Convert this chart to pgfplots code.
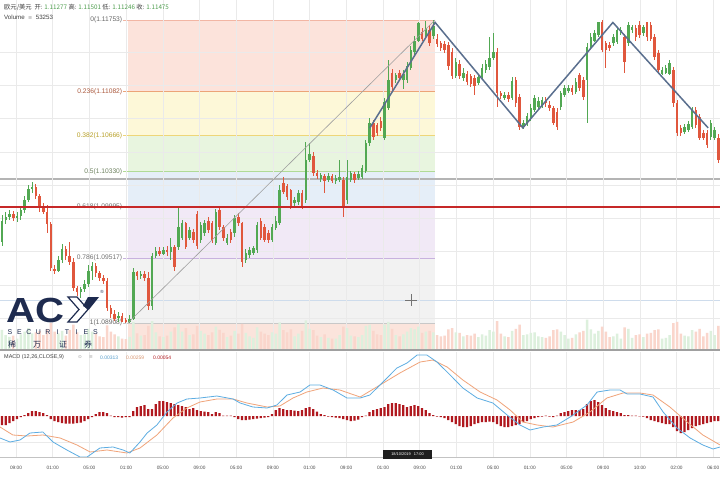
\documentclass[border=0pt]{standalone}
\usepackage{pgfplots}
\pgfplotsset{compat=1.18}
\usepackage{pgfplotstable}
\usepackage{fontspec}
\setmainfont{Liberation Sans}
\newfontfamily\cjk{Noto Sans CJK SC}
\newfontfamily\dejavu{DejaVu Sans}
\definecolor{up}{HTML}{52A853}
\definecolor{dn}{HTML}{E0573D}
\definecolor{vup}{HTML}{DDF0DD}
\definecolor{vdn}{HTML}{FAD6CC}
\definecolor{gridc}{HTML}{EAEAEA}
\definecolor{histc}{HTML}{B0181E}
\definecolor{macdc}{HTML}{5DADE2}
\definecolor{sigc}{HTML}{F0A47A}
\definecolor{zig}{HTML}{5A6F8E}
\definecolor{redl}{HTML}{C62828}
\definecolor{navy}{HTML}{1E2B4F}
\definecolor{numc}{HTML}{4E9E4E}
\definecolor{fA}{HTML}{FCE3DB}
\definecolor{fB}{HTML}{FDF8D8}
\definecolor{fC}{HTML}{E8F5DF}
\definecolor{fD}{HTML}{E5EEF8}
\definecolor{fE}{HTML}{F1E9F6}
\definecolor{fF}{HTML}{F2F2F2}
\definecolor{fG}{HTML}{FBE4DC}
\definecolor{l0}{HTML}{F2B6A4}
\definecolor{l1}{HTML}{ECA478}
\definecolor{l2}{HTML}{EED678}
\definecolor{l3}{HTML}{B0DA96}
\definecolor{l4}{HTML}{A8C4E8}
\definecolor{l5}{HTML}{C8B2DE}
\definecolor{l6}{HTML}{C8C8C8}
\definecolor{t1}{HTML}{AA583C}
\definecolor{t2}{HTML}{B8A028}
\definecolor{t3}{HTML}{6E8260}
\definecolor{hl}{HTML}{B4B4B4}
\definecolor{bl}{HTML}{CEDCEC}
\definecolor{sep}{HTML}{A0A0A0}
\definecolor{sep2}{HTML}{C3C3C3}
\def\xt{3.73,13.52,23.31,33.09,42.88,52.67,62.45,72.24,82.03,91.81,101.6,111.39,121.17,130.96,140.75,150.53,160.32,170.11,179.89,189.68}

\pgfplotstableread{
i o h l c v
0 1.0967 1.0992 1.0963 1.0987 55
1 1.0987 1.0995 1.0984 1.0990 40
2 1.0990 1.0997 1.0988 1.0993 35
3 1.0993 1.0996 1.0987 1.0989 38
4 1.0989 1.0995 1.0986 1.0991 30
5 1.0991 1.1001 1.0988 1.0997 42
6 1.0997 1.1010 1.0994 1.1006 50
7 1.1006 1.1020 1.1004 1.1017 60
8 1.1017 1.1023 1.1013 1.1019 45
9 1.1019 1.1021 1.1007 1.1010 48
10 1.1010 1.1012 1.0995 1.0999 52
11 1.0999 1.1003 1.0993 1.0995 40
12 1.0995 1.1002 1.0975 1.0984 58
13 1.0984 1.0986 1.0940 1.0942 75
14 1.0942 1.0945 1.0937 1.0940 50
15 1.0940 1.0954 1.0939 1.0950 45
16 1.0950 1.0965 1.0947 1.0960 52
17 1.0960 1.0963 1.0950 1.0954 38
18 1.0954 1.0967 1.0945 1.0948 55
19 1.0948 1.0952 1.0921 1.0924 70
20 1.0924 1.0926 1.0916 1.0920 48
21 1.0920 1.0925 1.0914 1.0923 40
22 1.0923 1.0931 1.0920 1.0927 42
23 1.0927 1.0945 1.0925 1.0940 58
24 1.0940 1.0948 1.0931 1.0944 50
25 1.0944 1.0947 1.0934 1.0938 44
26 1.0938 1.0940 1.0930 1.0933 36
27 1.0933 1.0936 1.0927 1.0930 34
28 1.0930 1.0933 1.0902 1.0905 68
29 1.0905 1.0908 1.0895 1.0899 50
30 1.0899 1.0903 1.0893 1.0895 42
31 1.0895 1.0901 1.0892 1.0897 36
32 1.0897 1.0900 1.0892 1.0892 30
33 1.0894 1.0895 1.0891 1.0892 28
34 1.0892 1.0898 1.08908 1.0895 35
35 1.0895 1.0942 1.0894 1.0939 78
36 1.0939 1.0940 1.0931 1.0935 45
37 1.0935 1.0940 1.0932 1.0937 38
38 1.0937 1.0940 1.0930 1.0933 40
39 1.0933 1.0939 1.0903 1.0907 66
40 1.0907 1.0957 1.0903 1.0954 80
41 1.0954 1.0962 1.0952 1.0958 48
42 1.0958 1.0962 1.0954 1.0956 36
43 1.0956 1.0962 1.0955 1.0959 34
44 1.0959 1.0963 1.0954 1.0957 38
45 1.0957 1.0971 1.0950 1.0962 50
46 1.0962 1.0964 1.0940 1.0943 62
47 1.0962 1.0999 1.0959 1.0981 72
48 1.0971 1.0988 1.0969 1.0985 50
49 1.0985 1.0986 1.0960 1.0962 60
50 1.0971 1.0981 1.0969 1.0978 40
51 1.0976 1.0979 1.0966 1.0969 42
52 1.0993 1.0996 1.0960 1.0963 66
53 1.0969 1.0986 1.0966 1.0983 52
54 1.0975 1.0988 1.0973 1.0985 44
55 1.0987 1.0990 1.0975 1.0978 40
56 1.0985 1.0987 1.0966 1.0969 48
57 1.0966 1.0998 1.0964 1.0995 64
58 1.0997 1.1000 1.0978 1.0981 55
59 1.0981 1.0983 1.0968 1.0971 46
60 1.0966 1.0974 1.0964 1.0971 34
61 1.0976 1.0979 1.0966 1.0969 38
62 1.0975 1.0992 1.0972 1.0989 52
63 1.0990 1.0994 1.0982 1.0985 44
64 1.0985 1.0986 1.0943 1.0948 72
65 1.0950 1.0960 1.0947 1.0957 46
66 1.0955 1.0962 1.0952 1.0959 36
67 1.0957 1.0963 1.0955 1.0961 32
68 1.0959 1.0986 1.0957 1.0983 62
69 1.0987 1.0989 1.0969 1.0971 50
70 1.0981 1.0984 1.0967 1.0969 44
71 1.0975 1.0978 1.0966 1.0969 40
72 1.0969 1.0984 1.0967 1.0981 48
73 1.0980 1.0991 1.0978 1.0987 44
74 1.0985 1.1020 1.0983 1.1016 76
75 1.1022 1.1028 1.1012 1.1014 54
76 1.1019 1.1021 1.1006 1.1009 48
77 1.1016 1.1017 1.0998 1.1000 56
78 1.1003 1.1009 1.1001 1.1006 36
79 1.1004 1.1016 1.1002 1.1013 44
80 1.1013 1.1016 1.0998 1.1000 52
81 1.1006 1.1061 1.1003 1.1044 82
82 1.1044 1.1060 1.1042 1.1050 58
83 1.1048 1.1051 1.1029 1.1032 54
84 1.1032 1.1034 1.1026 1.1029 38
85 1.1026 1.1032 1.1023 1.1030 34
86 1.1029 1.1031 1.1013 1.1024 42
87 1.1025 1.1032 1.1023 1.1029 32
88 1.1029 1.1031 1.1022 1.1024 30
89 1.1024 1.1030 1.1021 1.1027 30
90 1.1025 1.1044 1.1023 1.1028 40
91 1.1025 1.1028 1.0990 1.1000 64
92 1.1006 1.1044 1.1003 1.1028 60
93 1.1025 1.1034 1.1023 1.1032 38
94 1.1031 1.1033 1.1022 1.1025 36
95 1.1027 1.1034 1.1025 1.1031 34
96 1.1028 1.1039 1.1026 1.1036 40
97 1.1034 1.1063 1.1032 1.1060 66
98 1.1060 1.1083 1.1057 1.1079 70
99 1.1079 1.1081 1.1063 1.1065 52
100 1.1077 1.1079 1.1066 1.1069 42
101 1.1081 1.1084 1.1071 1.1074 40
102 1.1065 1.1102 1.1063 1.1098 70
103 1.1093 1.1138 1.1091 1.1119 78
104 1.1126 1.1129 1.1109 1.1112 58
105 1.1119 1.1126 1.1116 1.1124 40
106 1.1126 1.1128 1.1118 1.1121 36
107 1.1119 1.1128 1.1111 1.1125 42
108 1.1119 1.1136 1.1116 1.1132 50
109 1.1130 1.1151 1.1128 1.1147 60
110 1.1145 1.1160 1.1143 1.1156 56
111 1.1156 1.1174 1.1155 1.1173 64
112 1.1164 1.1168 1.1156 1.1158 46
113 1.1160 1.1174 1.1157 1.1168 50
114 1.1166 1.1171 1.1151 1.1154 52
115 1.1160 1.11753 1.1158 1.1170 48
116 1.1158 1.1162 1.1150 1.1153 40
117 1.1154 1.1156 1.1146 1.1149 36
118 1.1153 1.1156 1.1144 1.1147 38
119 1.1152 1.1155 1.1128 1.1132 56
120 1.1145 1.1149 1.1120 1.1123 60
121 1.1123 1.1140 1.1121 1.1136 48
122 1.1134 1.1138 1.1120 1.1123 46
123 1.1121 1.1130 1.1118 1.1126 36
124 1.1125 1.1127 1.1114 1.1117 40
125 1.1123 1.1125 1.1112 1.1115 38
126 1.1121 1.1124 1.1105 1.1113 44
127 1.1116 1.1125 1.1114 1.1122 34
128 1.1122 1.1134 1.1120 1.1130 42
129 1.1128 1.1138 1.1126 1.1134 38
130 1.1131 1.1159 1.1128 1.1140 54
131 1.1140 1.1163 1.1138 1.1145 50
132 1.1145 1.1149 1.1094 1.1107 80
133 1.1107 1.1109 1.1101 1.1104 44
134 1.1102 1.1108 1.1100 1.1105 36
135 1.1105 1.1108 1.1098 1.1101 34
136 1.1102 1.1122 1.1100 1.1118 52
137 1.1119 1.1122 1.1094 1.1097 58
138 1.1103 1.1106 1.1072 1.1075 70
139 1.1075 1.1081 1.1073 1.1079 40
140 1.1079 1.1088 1.1076 1.1085 42
141 1.1083 1.1096 1.1080 1.1093 46
142 1.1091 1.1105 1.1089 1.1102 48
143 1.1094 1.1103 1.1092 1.1099 36
144 1.1095 1.1103 1.1093 1.1100 34
145 1.1100 1.1103 1.1094 1.1097 32
146 1.1096 1.1099 1.1090 1.1093 36
147 1.1093 1.1095 1.1077 1.1079 54
148 1.1089 1.1093 1.1072 1.1075 56
149 1.1094 1.1109 1.1091 1.1107 50
150 1.1105 1.1114 1.1103 1.1111 40
151 1.1109 1.1114 1.1107 1.1111 30
152 1.1111 1.1114 1.1105 1.1108 32
153 1.1108 1.1121 1.1106 1.1117 42
154 1.1124 1.1126 1.1109 1.1112 48
155 1.1119 1.1122 1.1100 1.1103 52
156 1.1119 1.1154 1.1079 1.1150 84
157 1.1150 1.1163 1.1148 1.1159 56
158 1.1156 1.1166 1.1155 1.1163 44
159 1.1161 1.1174 1.1159 1.1173 52
160 1.1173 1.1175 1.1145 1.1147 64
161 1.1154 1.1156 1.1130 1.1147 50
162 1.1152 1.1155 1.1146 1.1149 34
163 1.1154 1.1162 1.1151 1.1159 36
164 1.1155 1.1169 1.1153 1.1166 44
165 1.1164 1.1169 1.1161 1.1166 30
166 1.1159 1.1162 1.1126 1.1136 62
167 1.1154 1.1174 1.1151 1.1171 58
168 1.1166 1.1171 1.1163 1.1169 32
169 1.1168 1.1171 1.1156 1.1159 40
170 1.1171 1.1174 1.1158 1.1161 42
171 1.1163 1.1171 1.1160 1.1169 34
172 1.1173 1.1174 1.1156 1.1159 44
173 1.1171 1.1174 1.1156 1.1158 46
174 1.1159 1.1162 1.1138 1.1141 54
175 1.1144 1.1147 1.1125 1.1128 56
176 1.1125 1.1131 1.1124 1.1128 30
177 1.1126 1.1133 1.1125 1.1130 32
178 1.1125 1.1138 1.1124 1.1135 40
179 1.1128 1.1131 1.1094 1.1097 74
180 1.1097 1.1100 1.1066 1.1069 78
181 1.1074 1.1077 1.1066 1.1069 44
182 1.1070 1.1078 1.1068 1.1075 38
183 1.1072 1.1080 1.1070 1.1078 36
184 1.1075 1.1094 1.1073 1.1091 54
185 1.1091 1.1094 1.1074 1.1077 50
186 1.1084 1.1087 1.1063 1.1065 58
187 1.1069 1.1072 1.1063 1.1065 36
188 1.1069 1.1072 1.1055 1.1058 46
189 1.1065 1.1081 1.1063 1.1079 52
190 1.1065 1.1075 1.1063 1.1072 40
191 1.1065 1.1068 1.1041 1.1044 66
}\candles

\pgfplotstableread{
i m
0 -9
1 -9
2 -7
3 -5
4 -3
5 -1
6 1
7 3
8 5
9 5
10 4
11 3
12 1
13 -3
14 -5
15 -6
16 -7
17 -7.5
18 -7.5
19 -7.5
20 -7
21 -6.5
22 -5
23 -3
24 -1
25 2
26 4
27 4
28 3
29 0.5
30 -1
31 -1
32 -1.5
33 -1
34 -1
35 5
36 9
37 10
38 11
39 7
40 7
41 12
42 15
43 15
44 14
45 13
46 12
47 11
48 10
49 9
50 7
51 8
52 6
53 5
54 4.5
55 4
56 2
57 4
58 3
59 0.5
60 0.3
61 0.5
62 -1
63 -3
64 -4
65 -4
66 -3.5
67 -3
68 -2.5
69 -2
70 -1.5
71 -1
72 2
73 6
74 8
75 7
76 6
77 6
78 5.5
79 5
80 6
81 8
82 9
83 7
84 4.5
85 2
86 1
87 -0.5
88 -1
89 -1.5
90 -2
91 -3
92 -4
93 -5
94 -4.5
95 -3.5
96 -1
97 0.5
98 4
99 6
100 7
101 8
102 9
103 12
104 13
105 13
106 12
107 11
108 9
109 10
110 11
111 10
112 8
113 6
114 3
115 1
116 -0.5
117 -1
118 -2
119 -4
120 -6
121 -8
122 -10
123 -11
124 -11
125 -10
126 -8
127 -7
128 -6
129 -6
130 -5.5
131 -6
132 -8
133 -10
134 -11
135 -11
136 -10
137 -9
138 -8
139 -6
140 -5
141 -3
142 -2
143 -1
144 -0.5
145 0.5
146 -0.5
147 -1
148 0.5
149 3
150 4
151 5
152 6
153 6
154 6
155 7
156 12
157 15
158 16
159 14
160 11
161 8
162 6
163 5
164 4
165 3
166 1
167 1
168 0.5
169 0.3
170 -0.3
171 -0.5
172 -2
173 -4
174 -5
175 -6
176 -7
177 -8
178 -8
179 -11
180 -15
181 -17
182 -16
183 -14
184 -12
185 -10
186 -9
187 -8
188 -7
189 -6
190 -5
191 -5
}\hist

\pgfplotstableread{
x y
-0.53 -22
2.13 -26
4.8 -24
7.47 -17
10.9 -16
13.6 -26
17.3 -34
20.8 -41
22.7 -41
26.1 -32
29.6 -31
32.3 -34
34.1 -37
36.8 -26
38.7 -17
41.3 -9
44 4
46.7 13
49.3 17
52.8 18
57.3 20
61.6 17
63.5 13
66.9 9
70.7 8
73.3 11
76 21
79.5 24
82.1 31
84.8 31
88.3 26
92 18
95.5 18
98.1 21
101.6 34
105.3 48
108 53
110.7 61
113.3 61
116 54
119.5 41
122.9 28
126.7 18
130.9 13
134.7 1
138.1 -9
140.8 -14
144.3 -11
148 -9
151.5 -1
156 11
158.7 24
162.1 26
164.8 26
166.7 22
170.1 22
173.6 19
176.3 4
180 -12
183.5 -22
186.9 -29
189.6 -33
191.5 -31
}\macd

\pgfplotstableread{
x y
-0.53 -11
2.9 -19
6.7 -20
10.9 -19
15.5 -22
20 -29
23.5 -36
28 -34
33.3 -37
36.8 -32
41.3 -19
45.6 -2
49.3 8
52.8 14
57.3 17
61.6 17
65.3 13
70.7 9
74.1 10
77.6 18
81.3 24
85.6 28
90.1 26
95.5 19
100.8 31
106.1 43
111.5 54
114.9 56
118.7 49
122.9 36
127.5 24
132 16
135.5 6
138.9 -6
142.7 -9
146.9 -11
152.3 -6
156.8 4
161.3 18
165.6 23
170.1 23
173.6 21
178.1 9
182.7 -6
186.9 -19
191.5 -29
}\signal

\pgfplotsset{
  panel/.style={scale only axis, width=720bp, xmin=-0.5333, xmax=191.4667,
    axis line style={draw=none}, major tick length=0, minor tick num=0},
  pricep/.style={panel, at={(0,0)}, anchor=north west, height=349bp,
    ymin=1.08663, ymax=1.11941},
}

\begin{document}
\begin{tikzpicture}
\fill[white] (0,0) rectangle (720bp,-479bp);
\useasboundingbox (0,0) rectangle (720bp,-479bp);

% --- price background: fib zones, grid, levels
\begin{axis}[pricep, axis on top, xtick=\xt, xticklabels={}, yticklabels={},
  ytick={1.0895,1.0926,1.0958,1.0989,1.1020,1.1051,1.1083,1.1114,1.1145},
  grid=major, major grid style={gridc, line width=0.5bp}]
\fill[fA] (axis cs:33.6,1.11753) rectangle (axis cs:115.47,1.11082);
\fill[fB] (axis cs:33.6,1.11082) rectangle (axis cs:115.47,1.10666);
\fill[fC] (axis cs:33.6,1.10666) rectangle (axis cs:115.47,1.10330);
\fill[fD] (axis cs:33.6,1.10330) rectangle (axis cs:115.47,1.09995);
\fill[fE] (axis cs:33.6,1.09995) rectangle (axis cs:115.47,1.09517);
\fill[fF] (axis cs:33.6,1.09517) rectangle (axis cs:115.47,1.08908);
\fill[fG] (axis cs:33.6,1.08908) rectangle (axis cs:115.47,1.08663);
\draw[l0, line width=0.7bp] (axis cs:32.3,1.11753) -- (axis cs:115.47,1.11753);
\draw[l1, line width=0.7bp] (axis cs:32.3,1.11082) -- (axis cs:115.47,1.11082);
\draw[l2, line width=0.7bp] (axis cs:32.3,1.10666) -- (axis cs:115.47,1.10666);
\draw[l3, line width=0.7bp] (axis cs:32.3,1.10330) -- (axis cs:115.47,1.10330);
\draw[l4, line width=0.7bp] (axis cs:32.3,1.09995) -- (axis cs:115.47,1.09995);
\draw[l5, line width=0.7bp] (axis cs:32.3,1.09517) -- (axis cs:115.47,1.09517);
\draw[l6, line width=0.7bp] (axis cs:32.3,1.08908) -- (axis cs:115.47,1.08908);
\draw[hl, line width=1.6bp] (axis cs:-1,1.1026) -- (axis cs:193,1.1026);
\draw[bl, line width=0.8bp] (axis cs:-1,1.0912) -- (axis cs:193,1.0912);
\end{axis}

% --- volume
\begin{axis}[pricep, ymin=0, ymax=1000, hide axis]
\addplot[ybar, bar width=2.5bp, bar shift=0pt, fill=vup, draw=none]
  table[x=i, y expr={(\thisrow{c}>=\thisrow{o})*\thisrow{v}}] {\candles};
\addplot[ybar, bar width=2.5bp, bar shift=0pt, fill=vdn, draw=none]
  table[x=i, y expr={(\thisrow{c}<\thisrow{o})*\thisrow{v}}] {\candles};
\end{axis}

% --- candles and drawings
\begin{axis}[pricep, hide axis]
\begin{scope}[font=\fontsize{6.7}{7}\selectfont]
\node[anchor=east, inner sep=0, text=black!60] at (axis cs:32.1,1.11753) {0(1.11753)};
\node[anchor=east, inner sep=0, text=t1] at (axis cs:32.1,1.11082) {0.236(1.11082)};
\node[anchor=east, inner sep=0, text=t2] at (axis cs:32.1,1.10666) {0.382(1.10666)};
\node[anchor=east, inner sep=0, text=t3] at (axis cs:32.1,1.10330) {0.5(1.10330)};
\node[anchor=east, inner sep=0, text=black!55] at (axis cs:32.1,1.09995) {0.618(1.09995)};
\node[anchor=east, inner sep=0, text=black!55] at (axis cs:32.1,1.09517) {0.786(1.09517)};
\node[anchor=east, inner sep=0, text=black!60] at (axis cs:32.1,1.08908) {1(1.08908)};
\end{scope}
% wicks
\addplot[draw=none, mark=none, forget plot, error bars/.cd, y dir=both, y explicit, error mark=none,
  error bar style={draw=up, line width=0.7bp}]
  table[x=i, y expr={(\thisrow{h}+\thisrow{l})/2}, y error expr={(\thisrow{c}>=\thisrow{o})*(\thisrow{h}-\thisrow{l})/2}] {\candles};
\addplot[draw=none, mark=none, forget plot, error bars/.cd, y dir=both, y explicit, error mark=none,
  error bar style={draw=dn, line width=0.7bp}]
  table[x=i, y expr={(\thisrow{h}+\thisrow{l})/2}, y error expr={(\thisrow{c}<\thisrow{o})*(\thisrow{h}-\thisrow{l})/2}] {\candles};
% bodies
\addplot[draw=none, mark=none, forget plot, error bars/.cd, y dir=both, y explicit, error mark=none,
  error bar style={draw=up, line width=2.5bp}]
  table[x=i, y expr={(\thisrow{o}+\thisrow{c})/2}, y error expr={(\thisrow{c}>=\thisrow{o})*max((\thisrow{c}-\thisrow{o})/2,0.00005)}] {\candles};
\addplot[draw=none, mark=none, forget plot, error bars/.cd, y dir=both, y explicit, error mark=none,
  error bar style={draw=dn, line width=2.5bp}]
  table[x=i, y expr={(\thisrow{o}+\thisrow{c})/2}, y error expr={(\thisrow{c}<\thisrow{o})*max((\thisrow{o}-\thisrow{c})/2,0.00005)}] {\candles};
% trend line, levels, zigzag
\addplot[color=black!38, line width=0.6bp] coordinates {(33.6,1.08908) (115.47,1.11753)};
\addplot[redl, line width=1.8bp] coordinates {(-1,1.09995) (193,1.09995)};
\addplot[zig, line width=1.5bp] coordinates {(98.1,1.1074) (115.5,1.1173) (138.9,1.1074) (162.9,1.1173) (188.3,1.1074)};
\end{axis}

% --- MACD
\begin{axis}[panel, at={(0,-352bp)}, anchor=north west, height=106bp,
  ymin=-42, ymax=64, xtick=\xt,
  xticklabels={09:00,01:00,05:00,01:00,05:00,09:00,05:00,09:00,01:00,09:00,01:00,09:00,01:00,05:00,01:00,05:00,09:00,10:00,02:00,06:00},
  xticklabel style={font=\fontsize{4.8}{5}\selectfont, text=black!70, yshift=-5bp},
  ytick={-26,28}, yticklabels={}, grid=major, major grid style={gridc, line width=0.5bp}]
\addplot[ybar, bar width=2.3bp, bar shift=0pt, fill=histc, draw=none] table[x=i, y=m] {\hist};
\addplot[sigc, line width=0.8bp] table[x=x, y=y] {\signal};
\addplot[macdc, line width=0.8bp] table[x=x, y=y] {\macd};
\end{axis}

% --- decorations in pixel coordinates
\begin{scope}[x=1bp, y=-1bp]
\draw[sep, line width=2bp] (0,350) -- (720,350);
\draw[sep2, line width=1.2bp] (0,457.5) -- (720,457.5);
% header
\node[anchor=west, inner sep=0, font=\cjk\fontsize{6.3}{7}\selectfont, text=black!75] at (4,7)
  {欧元/美元\ \ 开: \textcolor{numc}{1.11277} 高: \textcolor{numc}{1.11501} 低: \textcolor{numc}{1.11246} 收: \textcolor{numc}{1.11475}};
\node[anchor=west, inner sep=0, font=\fontsize{6.2}{7}\selectfont, text=black!75] at (4,17)
  {Volume\ \ {\dejavu\fontsize{5}{6}\selectfont\color{black!45}≡}\ \ 53253};
% MACD legend
\node[anchor=west, inner sep=0, font=\fontsize{5.5}{6}\selectfont, text=black!75] at (4,357.5) {MACD (12,26,CLOSE,9)};
\node[anchor=west, inner sep=0, font=\dejavu\fontsize{4.5}{5}\selectfont, text=black!40] at (78,357.5) {⊙};
\node[anchor=west, inner sep=0, font=\dejavu\fontsize{4.5}{5}\selectfont, text=black!40] at (89,357.5) {≡};
\node[anchor=west, inner sep=0, font=\fontsize{5}{6}\selectfont, text=macdc!90!black] at (100,357.5) {0.00313};
\node[anchor=west, inner sep=0, font=\fontsize{5}{6}\selectfont, text=sigc!90!black] at (126,357.5) {0.00259};
\node[anchor=west, inner sep=0, font=\fontsize{5}{6}\selectfont, text=histc] at (153,357.5) {0.00054};
% crosshair
\draw[black!55, line width=0.6bp] (405,300) -- (417,300) (411,294) -- (411,306);
% tooltip
\fill[black!88] (383,450) rectangle (432,459);
\node[inner sep=0, font=\fontsize{3.9}{4}\selectfont, text=white] at (407.5,454.5) {18/10/2019\ \ \ 17:00};
% logo
\node[anchor=base west, inner sep=0, text=navy, font=\fontsize{35}{35}\selectfont\bfseries, xscale=1.15] at (6,322) {AC};
\filldraw[fill=white, draw=navy, line width=1.2bp] (68,297) -- (77,297) -- (88,309.5) -- (77,322) -- (68,322) -- (79,309.5) -- cycle;
\fill[navy] (88,297) -- (99,297) -- (89,309.5) -- (83,306) -- cycle;
\node[inner sep=0, font=\fontsize{4.5}{5}\selectfont, text=navy] at (102,292) {®};
\foreach \ch [count=\k from 0] in {S,E,C,U,R,I,T,I,E,S}
  \node[inner sep=0, font=\fontsize{7}{8}\selectfont, text=navy] at (10+9.5*\k,332) {\ch};
\node[inner sep=0, font=\cjk\fontsize{8}{9}\selectfont, text=navy] at (12,344.5) {稀};
\node[inner sep=0, font=\cjk\fontsize{8}{9}\selectfont, text=navy] at (37,344.5) {万};
\node[inner sep=0, font=\cjk\fontsize{8}{9}\selectfont, text=navy] at (63,344.5) {证};
\node[inner sep=0, font=\cjk\fontsize{8}{9}\selectfont, text=navy] at (88,344.5) {券};
\end{scope}
\end{tikzpicture}
\end{document}
